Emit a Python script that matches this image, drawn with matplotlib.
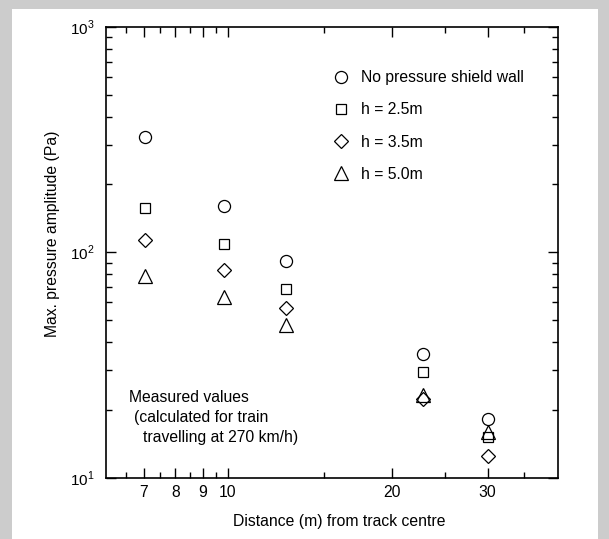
import matplotlib
matplotlib.use('Agg')
import matplotlib.pyplot as plt
from matplotlib.ticker import FixedLocator, FixedFormatter, NullFormatter
from matplotlib.patches import Rectangle

plt.rcParams['font.family'] = ['Liberation Sans', 'DejaVu Sans']
plt.rcParams['mathtext.fontset'] = 'custom'
plt.rcParams['mathtext.rm'] = 'Liberation Sans'

# distance from track centre (m)
distance = [7.05, 9.85, 12.8, 22.8, 30.0]

# max. pressure amplitude (Pa)
no_wall = [326, 160, 91.6, 35.2, 18.3]
h_25 = [157, 109, 68.9, 29.4, 15.2]
h_35 = [113, 83.6, 56.4, 22.3, 12.5]
h_50 = [78.7, 63, 47.4, 23.2, 15.9]

series = [
    (no_wall, 'o', 'No pressure shield wall'),
    (h_25, 's', 'h = 2.5m'),
    (h_35, 'D', 'h = 3.5m'),
    (h_50, '^', 'h = 5.0m'),
]
sizes = {'o': 8.7, 's': 7.2, 'D': 7.4, '^': 10.0}

x_major = [7, 8, 9, 10, 20, 30]
x_minor = [6.5, 7.5, 8.5, 9.5, 15, 25, 35]
y_major = [10, 100, 1000]
y_labels = [r'$10^{1}$', r'$10^{2}$', r'$10^{3}$']

FS = 11.3

fig = plt.figure(figsize=(6.09, 5.39), dpi=100)
fig.patch.set_facecolor('#cccccc')
fig.patches.append(Rectangle((12 / 609, 0), 586 / 609, 1 - 9 / 539,
                             transform=fig.transFigure, facecolor='white',
                             edgecolor='none', zorder=-10))

ax = fig.add_axes([106 / 609, 1 - 477.7 / 539, 452 / 609, 450.9 / 539])
ax.set_facecolor('white')

for vals, mk, lab in series:
    ax.plot(distance, vals, linestyle='none', marker=mk, markersize=sizes[mk],
            markerfacecolor='none', markeredgecolor='black',
            markeredgewidth=0.9, label=lab)

ax.set_xscale('log')
ax.set_yscale('log')
ax.set_xlim(5.97, 40.4)
ax.set_ylim(10, 1000)

ax.xaxis.set_major_locator(FixedLocator(x_major))
ax.xaxis.set_major_formatter(FixedFormatter([str(v) for v in x_major]))
ax.xaxis.set_minor_locator(FixedLocator(x_minor))
ax.xaxis.set_minor_formatter(NullFormatter())
ax.yaxis.set_major_locator(FixedLocator(y_major))
ax.yaxis.set_major_formatter(FixedFormatter(y_labels))
ax.yaxis.set_minor_locator(FixedLocator([v * d for d in (10, 100) for v in range(2, 10)]))
ax.yaxis.set_minor_formatter(NullFormatter())

ax.tick_params(which='both', direction='in', top=True, right=True,
               width=1.0, labelsize=FS, colors='black')
ax.tick_params(which='major', length=7, pad=5)
ax.tick_params(which='minor', length=4)
ax.tick_params(axis='y', which='major', labelsize=11, pad=8)
for sp in ax.spines.values():
    sp.set_linewidth(1.2)

ax.legend(loc='upper left', bbox_to_anchor=(0.49, 0.918), frameon=False,
          fontsize=FS, handlelength=0.95, handletextpad=0.8,
          labelspacing=1.1, borderaxespad=0)

ax.text(0.0509, 0.1776, 'Measured values', transform=ax.transAxes,
        fontsize=FS, va='center', ha='left')
ax.text(0.0619, 0.1335, '(calculated for train', transform=ax.transAxes,
        fontsize=FS, va='center', ha='left')
ax.text(0.0808, 0.0891, 'travelling at 270 km/h)', transform=ax.transAxes,
        fontsize=FS, va='center', ha='left')

fig.text(339 / 609, 1 - 521.6 / 539, 'Distance (m) from track centre',
         ha='center', va='center', fontsize=FS)
fig.text(53 / 609, 1 - 233.7 / 539, 'Max. pressure amplitude (Pa)',
         ha='center', va='center', rotation=90, fontsize=FS)

fig.savefig('out.png', dpi=100, facecolor=fig.get_facecolor())
